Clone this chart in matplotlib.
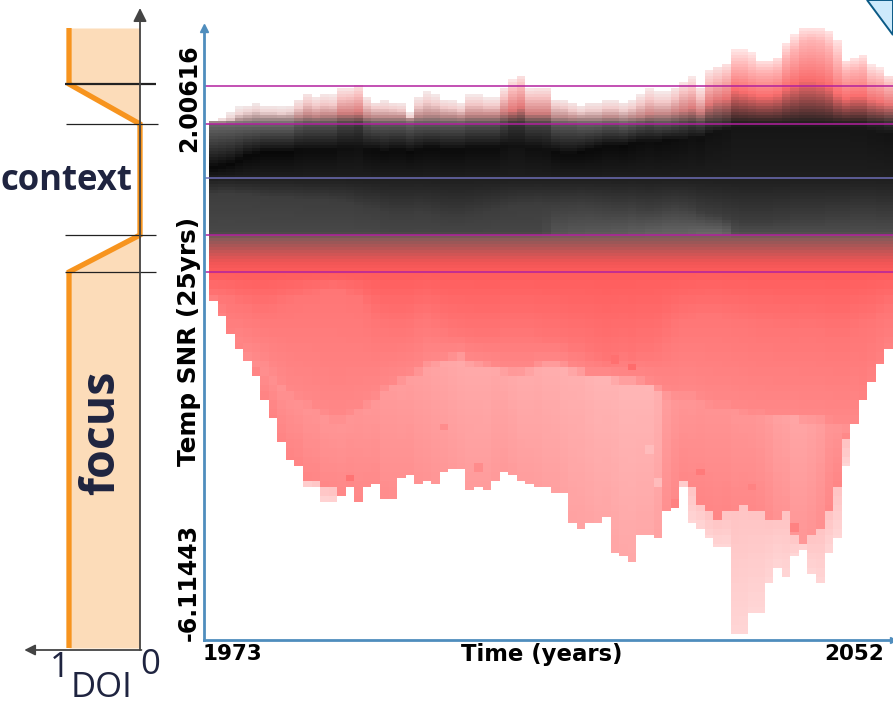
import matplotlib
matplotlib.use('Agg')
import matplotlib.pyplot as plt
import numpy as np
from matplotlib.patches import Polygon

W, H = 893, 707

years = np.arange(1973, 2053)
y_max_label, y_min_label = 2.00616, -6.11443
focus_rows = [86, 124, 235, 272]
center_row = 178

# envelope and shading readings per year, as image rows
top_row = [120,117,112,107,105,103,105,105,106,105, 99,93,97,94,95,88,88,84,97,102,
           100,102,103,112,97,92,95,99,100,103, 95,95,98,98,88,80,75,88,87,87,
           99,100,102,105,102,102,100,100,102,100, 95,89,92,92,87,82,77,87,70,66,
           63,50,50,53,60,60,57,43,35,28, 28,28,31,39,60,58,55,65,68,75]
inner_row = [122,121,119,114,112,110,112,112,113,112, 108,103,106,104,105,98,97,95,105,108,
             108,109,110,117,106,102,104,107,108,110, 104,104,106,106,98,90,86,97,97,97,
             106,107,110,112,110,110,108,108,110,108, 104,100,102,102,98,92,90,98,84,80,
             76,66,66,70,72,72,70,58,50,42, 40,42,48,62,72,70,68,78,80,85]
deep_row = [122,122,121,120,119,118,118,118,118,118, 117,115,116,115,115,113,113,112,116,117,
            117,117,117,119,116,115,115,116,116,117, 115,115,115,115,112,110,107,113,113,113,
            117,117,118,118,118,118,117,117,118,117, 116,114,114,114,112,110,108,112,104,100,
            98,90,92,94,96,96,94,88,84,80, 80,82,86,94,98,96,96,100,102,104]
warm = [0,0,0,0,0,0,0,0,0,0, .2,.3,.3,.3,.3,.5,.5,.6,.3,.2,
        .2,.2,.2,.1,.2,.2,.2,.2,.2,.2, .3,.3,.3,.3,.5,.7,.7,.5,.5,.5,
        .2,.2,.2,.1,.1,.1,.2,.2,.1,.2, .3,.4,.3,.3,.4,.5,.6,.5,.7,.7,
        .8,1,1,1,1,1,1,1,1,1, 1,1,1,1,1,1,1,.9,.9,.8]
black_row = [168,166,164,160,156,154,152,152,152,152, 150,150,150,150,150,148,148,148,150,150,
             152,150,150,152,150,148,148,150,150,150, 148,148,148,148,146,146,146,148,148,150,
             152,154,154,152,150,148,146,146,146,144, 142,142,142,140,140,140,138,138,134,132,
             130,128,128,128,128,128,128,128,128,128, 128,128,128,128,128,130,130,132,134,134]
gray_row = [195,194,194,195,195,196,197,198,198,198, 199,200,200,200,201,202,203,206,208,209,
            212,214,214,214,212,213,215,217,218,218, 216,214,212,210,208,206,205,205,204,205,
            205,204,204,203,204,205,206,207,207,206, 208,209,208,206,205,206,208,212,214,215,
            218,220,222,222,222,222,220,220,218,218, 218,218,216,216,216,214,214,214,216,216]
low_grey = [72,72,72,72,72,72,72,72,72,72, 72,72,72,72,72,72,72,72,72,72,
            70,70,70,70,70,70,70,70,70,70, 70,70,70,70,70,70,70,70,70,75,
            85,85,88,88,90,90,90,92,92,95, 95,98,98,100,100,100,102,105,105,105,
            100,80,78,78,78,78,78,78,78,78, 78,78,78,78,78,78,78,78,78,78]
red_row = [296,298,300,305,308,312,312,310,305,302, 300,296,294,292,290,292,296,300,310,320,
           325,328,328,325,318,315,320,325,330,332, 334,335,335,335,332,332,332,332,335,338,
           338,340,345,345,350,355,360,355,352,355, 350,350,345,335,325,320,318,316,315,315,
           318,320,322,325,328,328,330,330,332,330, 330,332,335,335,335,330,325,322,315,310]
light_row = [330,335,340,345,350,355,360,370,380,390, 395,400,405,410,415,415,410,405,400,395,
             385,380,375,372,368,360,358,356,354,352, 358,360,362,364,366,368,368,366,362,360,
             360,362,366,368,372,372,372,374,376,376, 378,380,385,390,392,392,392,395,400,402,
             402,405,408,410,410,412,412,412,412,415, 415,415,418,420,420,420,415,400,380,360]
light_level = [140,140,140,142,142,142,144,144,146,146, 146,148,148,150,150,150,150,150,152,152,
               155,156,158,158,160,162,164,166,168,170, 170,170,170,168,168,170,172,172,172,174,
               174,176,176,176,178,180,180,180,182,182, 182,182,176,158,152,150,150,148,148,148,
               148,150,150,150,152,155,160,162,165,165, 162,158,150,148,145,142,140,140,140,140]
main_row = [302,315,335,350,361,376,401,418,442,459, 466,480,482,488,490,497,488,502,487,483,
            499,499,477,475,485,482,483,472,469,470, 489,488,489,482,472,475,481,483,487,487,
            493,493,522,529,524,523,518,552,557,562, 536,535,537,512,502,480,487,503,513,517,
            513,513,507,510,510,517,517,513,533,540, 533,527,513,487,443,424,400,382,365,350]
low_row = [302,315,335,350,361,376,401,418,442,459, 466,487,487,503,503,497,488,502,487,483,
           499,499,477,475,485,482,483,472,469,470, 489,488,489,482,472,475,481,483,487,487,
           493,493,522,529,524,523,518,552,557,562, 536,535,537,512,502,487,523,528,539,547,
           547,634,633,612,612,583,567,576,556,550, 573,583,552,537,466,424,400,382,365,350]

# single cells that stand out from their neighbours
spot_col = [16, 27, 31, 49, 47, 63, 57, 54, 68, 51, 52]
spot_row = [478, 427, 467, 367, 360, 487, 472, 503, 527, 450, 482]
spot_level = [115, 140, 140, 108, 112, 130, 122, 130, 130, 188, 188]

# DOI curve
doi_rows = [28, 84, 124, 235, 272, 648]
doi_vals = [1, 1, 0, 0, 1, 1]
doi_line_rows = [84, 124, 235, 272]


def to_snr(row):
    # rows 28 and 633 are the ends of the data range
    return y_max_label - (np.asarray(row, dtype=float) - 28) * (y_max_label - y_min_label) / 605


def column_rgb(i, rows):
    w = warm[i]
    pale = (242 + 13 * w, 234 - 4 * w, 234 - 4 * w)
    pivot = (240 + 15 * w, 212 - 32 * w, 212 - 32 * w)
    deep = (175 + 75 * w, 145 - 35 * w, 145 - 35 * w)
    edge = 105 - 75 * w
    blk = 8 + 14 * w
    stops = [
        (top_row[i], pale), (inner_row[i], pivot), (deep_row[i], deep),
        (124, (edge, edge, edge)), (black_row[i], (blk, blk, blk)),
        (178, (30, 30, 30)), (gray_row[i], (62, 62, 62)),
        (233, (low_grey[i],) * 3), (237, (130, 90, 90)), (250, (190, 85, 85)),
        (262, (240, 85, 85)), (272, (255, 92, 92)),
    ]
    low = [(red_row[i], (255, 118, 118)), (light_row[i], (255, 136, 136)),
           (light_row[i] + 8, (255, light_level[i], light_level[i]))]
    stops += [s for s in low if s[0] < main_row[i]]
    end = max(light_level[i] - 14, 130)
    if stops[-1][0] < main_row[i]:
        stops.append((main_row[i], (255, end, end)))
    if low_row[i] > main_row[i]:
        stops += [(main_row[i] + 1, (255, 196, 196)), (low_row[i], (255, 214, 214))]
    xp = [s[0] for s in stops]
    # the density cells below the focus line are about 8 rows tall
    cell_rows = np.where(rows > 276, 272 + np.floor((rows - 272) / 8) * 8 + 4, rows)
    out = np.ones((len(rows), 3))
    for c in range(3):
        out[:, c] = np.interp(cell_rows, xp, [s[1][c] for s in stops]) / 255
    out[(rows < top_row[i]) | (rows > low_row[i])] = 1
    return out


row_edges = np.arange(25, 641, 3)
row_mid = row_edges[:-1] + 1.5
img = np.stack([column_rgb(i, row_mid) for i in range(len(years))], axis=1)
for c, r, v in zip(spot_col, spot_row, spot_level):
    hit = np.abs(row_mid - r) <= 4
    img[hit, c, 1:] = v / 255

fig = plt.figure(figsize=(W / 100, H / 100), dpi=100)

# main density chart
left_year = years[0] - 0.5 - 5 / 8.55
ax = fig.add_axes([204 / W, (H - 640) / H, (W - 204) / W, 612 / H])
ax.imshow(img, aspect='auto', interpolation='nearest',
          extent=[years[0] - 0.5, years[-1] + 0.5, to_snr(row_edges[-1]), to_snr(row_edges[0])])
ax.set_xlim(left_year, years[-1] + 0.5)
ax.set_ylim(to_snr(640), to_snr(28))
ax.set_xticks([])
ax.set_yticks([])
for s in ['top', 'right']:
    ax.spines[s].set_visible(False)
for s in ['left', 'bottom']:
    ax.spines[s].set_color('#4f8dbd')
    ax.spines[s].set_linewidth(2)
ax.plot(0, 1, '^', color='#4f8dbd', ms=6, transform=ax.transAxes, clip_on=False)
ax.plot(1, 0, '>', color='#4f8dbd', ms=5, transform=ax.transAxes, clip_on=False)
for r in focus_rows:
    ax.axhline(to_snr(r), color='#b3209f', lw=1.1)
ax.axhline(to_snr(center_row), color='#6d6db5', lw=1.1)


def px_text(x, y, s, **kw):
    fig.text(x / W, 1 - y / H, s, ha='center', va='center', **kw)


label_font = dict(family='DejaVu Sans', fontweight='bold', color='black')
px_text(232, 654, '1973', fontsize=15.5, **label_font)
px_text(542, 655, 'Time (years)', fontsize=16.4, **label_font)
px_text(854, 654, '2052', fontsize=15.5, **label_font)
px_text(189, 98, '2.00616', fontsize=17, rotation=90, **label_font)
px_text(189, 582, '-6.11443', fontsize=17, rotation=90, **label_font)
px_text(189, 341, 'Temp SNR (25yrs)', fontsize=17.8, rotation=90, **label_font)

# DOI panel: 0 at pixel 140, 1 at pixel 69
ax2 = fig.add_axes([0, 0, 210 / W, 1])
ax2.set_xlim(140 / 71, -70 / 71)
ax2.set_ylim(H, 0)
ax2.axis('off')
ax2.patch.set_alpha(0)
ax2.fill_betweenx(doi_rows, 0, doi_vals, color='#fcdcb9', lw=0)
ax2.plot(doi_vals, doi_rows, color='#f7941e', lw=3.8, solid_joinstyle='miter', solid_capstyle='butt')
ax2.hlines(doi_line_rows[0], 1.06, -0.22, color='#222222', lw=1.6)
ax2.hlines(doi_line_rows[1], 1.04, -0.26, color='#222222', lw=0.9)
ax2.hlines(doi_line_rows[2:], 1.06, -0.22, color='#222222', lw=0.9)
ax2.annotate('', xy=(0, 8), xytext=(0, 650),
             arrowprops=dict(arrowstyle='-|>', color='#444444', lw=1.3, mutation_scale=20, shrinkA=0, shrinkB=0))
ax2.annotate('', xy=(1.63, 650), xytext=(-0.02, 650),
             arrowprops=dict(arrowstyle='-|>', color='#444444', lw=1.3, mutation_scale=16, shrinkA=0, shrinkB=0))

doi_font = dict(family='Open Sans', color='#1f2440')
px_text(66, 181, 'context', fontsize=25, fontweight='bold', **doi_font)
px_text(102, 433, 'focus', fontsize=33.5, fontweight='bold', rotation=90, **doi_font)
px_text(60, 668, '1', fontsize=25, **doi_font)
px_text(150, 665, '0', fontsize=25, **doi_font)
px_text(102, 688, 'DOI', fontsize=25, **doi_font)

# corner of the neighbouring panel
fig.patches.append(Polygon([[867 / W, 1], [1, 1 - 35 / H], [1, 1]], closed=True, transform=fig.transFigure,
                           facecolor='#cdeafc', edgecolor='#0b5a86', lw=1.4))

plt.savefig('out.png', dpi=100)
